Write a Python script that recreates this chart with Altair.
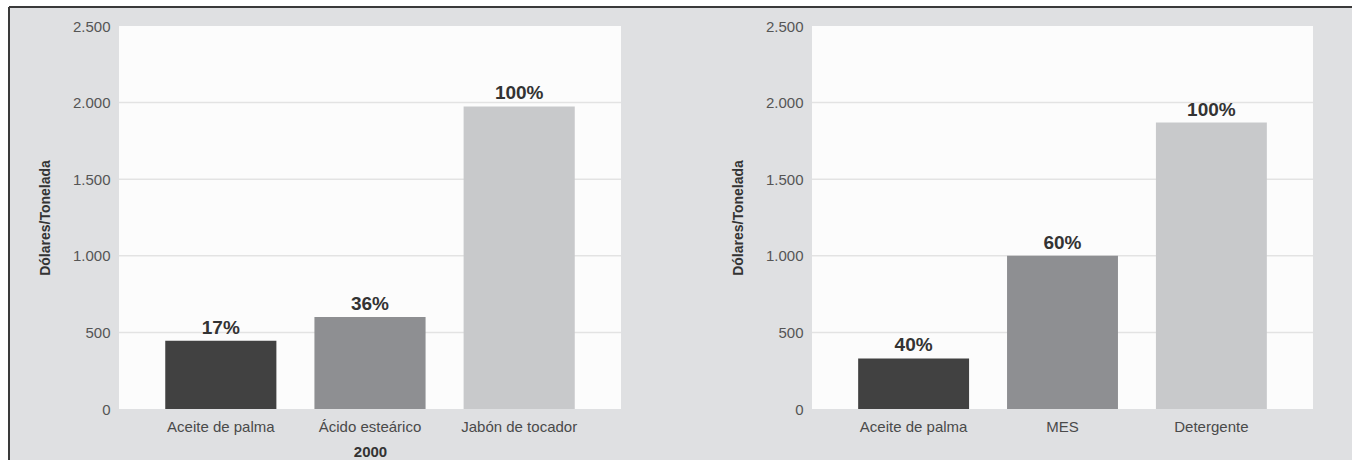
import altair as alt
import pandas as pd

# ---- data ----
left_cats = ["Aceite de palma", "Ácido esteárico", "Jabón de tocador"]
left_vals = [445, 600, 1975]
left_pcts = ["17%", "36%", "100%"]

right_cats = ["Aceite de palma", "MES", "Detergente"]
right_vals = [330, 1000, 1870]
right_pcts = ["40%", "60%", "100%"]

y_ticks = [0, 500, 1000, 1500, 2000, 2500]
grid_vals = [500, 1000, 1500, 2000]

bar_colors = ["#414141", "#8e8f92", "#c8c9cb"]
BG = "#dfe0e2"
PLOT_BG = "#fcfcfc"
FONT = "Liberation Sans"

H = 383
W_L = 502
W_R = 501


def panel(cats, vals, pcts, width, xtitle, frame):
    df = pd.DataFrame({"cat": cats, "val": vals, "pct": pcts})
    grid_df = pd.DataFrame({"val": grid_vals})
    one = pd.DataFrame({"k": [0]})

    yscale = alt.Scale(domain=[0, 2500], nice=False, zero=True)
    xscale = alt.Scale(paddingInner=0.255, paddingOuter=0.31)
    yaxis = alt.Axis(
        values=y_ticks,
        labelExpr="replace(format(datum.value, ','), ',', '.')",
        title="Dólares/Tonelada",
        grid=False, domain=False, ticks=False,
        labelPadding=9, titlePadding=20, zindex=1,
        labelFont=FONT, labelFontSize=15, labelColor="#555555",
        titleFont=FONT, titleFontSize=14, titleFontWeight="bold", titleColor="#333333",
    )
    xkw = dict(
        labelAngle=0, domain=False, ticks=False, grid=False,
        labelPadding=10, zindex=1,
        labelFont=FONT, labelFontSize=15, labelColor="#4a4a4a",
    )
    if xtitle:
        xkw.update(title=xtitle, titlePadding=10, titleFont=FONT, titleFontSize=15,
                   titleFontWeight="bold", titleColor="#333333")
    else:
        xkw.update(title=None)
    xaxis = alt.Axis(**xkw)

    layers = []
    if frame:
        layers.append(
            alt.Chart(one).mark_rect(color=BG).encode(
                x=alt.value(-110), x2=alt.value(1233), y=alt.value(-19), y2=alt.value(434)
            )
        )
        layers.append(
            alt.Chart(one).mark_rule(color="#3a3a3a", strokeWidth=2).encode(
                x=alt.value(-110), x2=alt.value(1233), y=alt.value(-19)
            )
        )
        layers.append(
            alt.Chart(one).mark_rule(color="#3a3a3a", strokeWidth=2).encode(
                x=alt.value(-110), y=alt.value(-19), y2=alt.value(434)
            )
        )
    layers.append(
        alt.Chart(one).mark_rect(color=PLOT_BG).encode(
            x=alt.value(0), x2=alt.value(width), y=alt.value(0), y2=alt.value(H)
        )
    )
    layers.append(
        alt.Chart(grid_df).mark_rule(color="#e3e3e3", strokeWidth=1.5).encode(
            y=alt.Y("val:Q", scale=yscale, axis=yaxis),
            x=alt.value(0), x2=alt.value(width),
        )
    )
    layers.append(
        alt.Chart(df).mark_bar().encode(
            x=alt.X("cat:N", sort=cats, scale=xscale, axis=xaxis),
            y=alt.Y("val:Q", scale=yscale, axis=yaxis),
            color=alt.Color("cat:N", scale=alt.Scale(domain=cats, range=bar_colors), legend=None),
        )
    )
    layers.append(
        alt.Chart(df).mark_text(
            font=FONT, fontSize=19, fontWeight="bold", color="#333333",
            baseline="alphabetic", dy=-7,
        ).encode(
            x=alt.X("cat:N", sort=cats, scale=xscale, axis=xaxis),
            y=alt.Y("val:Q", scale=yscale, axis=yaxis),
            text="pct:N",
        )
    )
    return alt.layer(*layers).properties(width=width, height=H)


left = panel(left_cats, left_vals, left_pcts, W_L, "2000", True)
right = panel(right_cats, right_vals, right_pcts, W_R, None, False)

chart = (
    alt.hconcat(left, right, spacing=191, bounds="flush")
    .resolve_scale(x="independent", y="independent", color="independent")
    .properties(background="white", padding={"left": 8, "top": 6, "right": 0, "bottom": 0})
    .configure_view(stroke=None, fill=PLOT_BG)
)

chart.save("out.html", embed_options={"renderer": "svg", "actions": False})
